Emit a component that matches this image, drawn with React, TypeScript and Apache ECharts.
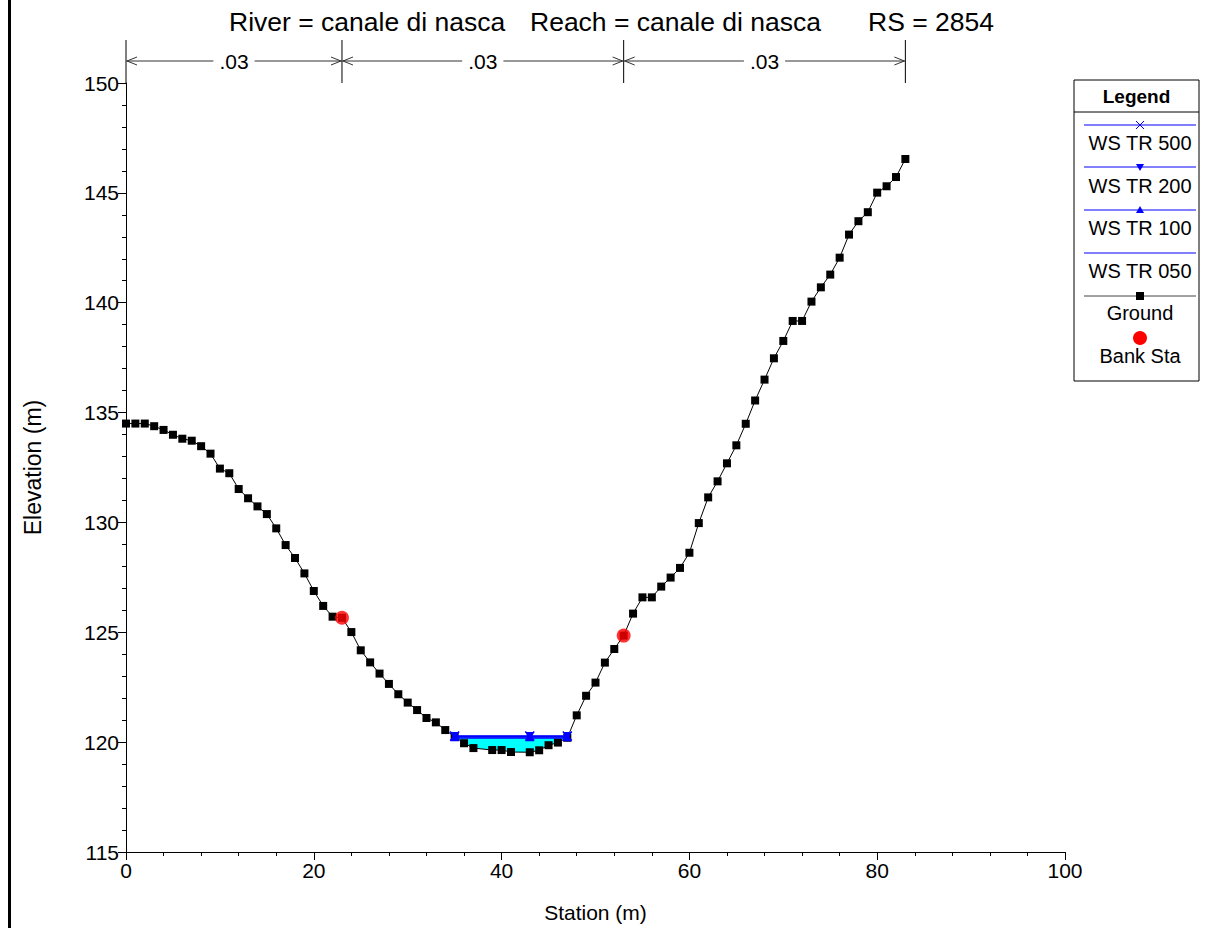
import React, { useEffect, useRef } from "react";
import * as echarts from "echarts";

// ---------- data ----------
const groundStations = [
  0, 1, 2, 3, 4, 5, 6, 7, 8, 9, 10, 11, 12, 13, 14, 15, 16, 17, 18, 19, 20, 21, 22, 23, 24, 25, 26, 27, 28, 29,
  30, 31, 32, 33, 34, 35, 36, 37, 39, 40, 41, 43, 44, 45, 46, 47, 48, 49, 50, 51, 52, 53, 54, 55, 56, 57, 58, 59,
  60, 61, 62, 63, 64, 65, 66, 67, 68, 69, 70, 71, 72, 73, 74, 75, 76, 77, 78, 79, 80, 81, 82, 83,
];
const groundElev = [
  134.5, 134.5, 134.5, 134.38, 134.21, 133.99, 133.81, 133.72, 133.47, 133.13, 132.45, 132.24, 131.52, 131.1,
  130.73, 130.38, 129.73, 128.97, 128.38, 127.68, 126.88, 126.2, 125.71, 125.66, 125.01, 124.18, 123.63, 123.12,
  122.65, 122.18, 121.8, 121.46, 121.1, 120.9, 120.55, 120.25, 119.95, 119.73, 119.64, 119.64, 119.55, 119.54,
  119.63, 119.86, 119.98, 120.2, 121.22, 122.11, 122.71, 123.62, 124.24, 124.85, 125.85, 126.59, 126.59, 127.08,
  127.49, 127.93, 128.62, 129.97, 131.14, 131.87, 132.69, 133.51, 134.49, 135.55, 136.5, 137.47, 138.26, 139.17,
  139.17, 140.05, 140.7, 141.28, 142.05, 143.1, 143.71, 144.12, 145.01, 145.3, 145.72, 146.54,
];
const bankStations = [23, 53];
const bankElev = [125.66, 124.85];

const wsStations = [35, 43, 47];
const wsTR500 = [120.28, 120.28, 120.28];
const wsTR200 = [120.26, 120.26, 120.26];
const wsTR100 = [120.24, 120.24, 120.24];
const wsTR050 = [120.19, 120.19, 120.19];

const nBreaks = [0, 23, 53, 83];
const nValues = [".03", ".03", ".03"];

const legendNames = ["WS TR 500", "WS TR 200", "WS TR 100", "WS TR 050", "Ground", "Bank Sta"];

const FONT = "'Liberation Sans', Arial, Helvetica, sans-serif";
const BLUE = "#0000ff";

const xSymbol = "path://M0,0L10,10M10,0L0,10";

function pairs(xs: number[], ys: number[]) {
  return xs.map((x, i) => [x, ys[i]]);
}

export default function App() {
  const ref = useRef<HTMLDivElement>(null);

  useEffect(() => {
    if (!ref.current) return;
    const chart = echarts.init(ref.current, null, { renderer: "svg" });

    const wsSeries = (name: string, ys: number[], symbol: string, rotate = 0, showSymbol = true) => ({
      name,
      type: "line",
      data: pairs(wsStations, ys),
      lineStyle: { color: BLUE, width: 1.5 },
      itemStyle: symbol === xSymbol ? { color: "none", borderColor: BLUE, borderWidth: 1.5 } : { color: BLUE },
      symbol: showSymbol ? symbol : "none",
      symbolRotate: rotate,
      symbolSize: 9,
      showSymbol,
      z: 5,
    });

    const option: any = {
      animation: false,
      backgroundColor: "#ffffff",
      grid: { left: 126, right: 148, top: 83, bottom: 76, containLabel: false, outerBoundsMode: "none" },
      xAxis: {
        type: "value",
        min: 0,
        max: 100,
        interval: 20,
        name: "Station (m)",
        nameLocation: "middle",
        nameGap: 50,
        nameTextStyle: { fontFamily: FONT, fontSize: 21, color: "#000" },
        axisLine: { show: true, onZero: false, lineStyle: { color: "#000", width: 1 } },
        axisTick: { show: true, length: 8, lineStyle: { color: "#000" } },
        minorTick: { show: true, splitNumber: 5, length: 4, lineStyle: { color: "#000" } },
        axisLabel: { fontFamily: FONT, fontSize: 21, color: "#000", margin: 8 },
        splitLine: { show: false },
      },
      yAxis: {
        type: "value",
        min: 115,
        max: 150,
        interval: 5,
        name: "Elevation (m)",
        nameLocation: "middle",
        nameGap: 82,
        nameRotate: 90,
        nameTextStyle: { fontFamily: FONT, fontSize: 23, color: "#000" },
        axisLine: { show: true, onZero: false, lineStyle: { color: "#000", width: 1 } },
        axisTick: { show: true, length: 8, lineStyle: { color: "#000" } },
        minorTick: { show: true, splitNumber: 5, length: 4, lineStyle: { color: "#000" } },
        axisLabel: { fontFamily: FONT, fontSize: 21, color: "#000", margin: 7 },
        splitLine: { show: false },
      },
      series: [
        {
          name: "WaterFill",
          type: "custom",
          data: [[wsStations[0], wsTR050[0]]],
          clip: false,
          z: 1,
          silent: true,
          renderItem: (_params: any, api: any) => {
            const x0 = wsStations[0];
            const x1 = wsStations[wsStations.length - 1];
            const top = wsTR050[0];
            const pts: number[][] = [];
            pts.push(api.coord([x0, top]));
            pts.push(api.coord([x1, top]));
            for (let i = groundStations.length - 1; i >= 0; i--) {
              const s = groundStations[i];
              if (s >= x0 && s <= x1) pts.push(api.coord([s, Math.min(groundElev[i], top)]));
            }
            return {
              type: "polygon",
              shape: { points: pts },
              style: { fill: "#00ffff", stroke: "none" },
            };
          },
        },
        {
          name: "Ground",
          type: "line",
          data: pairs(groundStations, groundElev),
          lineStyle: { color: "#000", width: 1 },
          itemStyle: { color: "#000" },
          symbol: "rect",
          symbolSize: 8,
          z: 4,
        },
        wsSeries("WS TR 050", wsTR050, "none", 0, false),
        wsSeries("WS TR 100", wsTR100, "triangle"),
        wsSeries("WS TR 200", wsTR200, "triangle", 180),
        wsSeries("WS TR 500", wsTR500, xSymbol),
        {
          name: "Bank Sta",
          type: "scatter",
          data: pairs(bankStations, bankElev),
          itemStyle: { color: "#ff0000" },
          symbol: "circle",
          symbolSize: 14,
          z: 6,
        },
      ],
    };

    chart.setOption(option);

    const px = (x: number, y: number) => chart.convertToPixel({ gridIndex: 0 }, [x, y]) as number[];

    const graphics: any[] = [];
    // left border
    graphics.push({ type: "rect", shape: { x: 8, y: 0, width: 3, height: 928 }, style: { fill: "#000" } });

    // title
    const titleParts = [
      { t: "River = canale di nasca", x: 229 },
      { t: "Reach = canale di nasca", x: 530 },
      { t: "RS = 2854", x: 868 },
    ];
    titleParts.forEach((p) =>
      graphics.push({
        type: "text",
        x: p.x,
        y: 22,
        style: { text: p.t, fontFamily: FONT, fontSize: 26.5, fill: "#000", verticalAlign: "middle" },
      })
    );

    // Manning's n annotation
    const yTop = 40;
    const yBottom = px(0, 150)[1];
    const yArrow = 61;
    nBreaks.forEach((b) => {
      const x = px(b, 150)[0];
      graphics.push({ type: "line", shape: { x1: x, y1: yTop, x2: x, y2: yBottom }, style: { stroke: "#000", lineWidth: 1 } });
    });
    for (let i = 0; i < nValues.length; i++) {
      const xa = px(nBreaks[i], 150)[0];
      const xb = px(nBreaks[i + 1], 150)[0];
      graphics.push({ type: "line", shape: { x1: xa, y1: yArrow, x2: xb, y2: yArrow }, style: { stroke: "#333", lineWidth: 1 } });
      graphics.push({
        type: "polyline",
        shape: { points: [[xa + 11, yArrow - 4], [xa + 1, yArrow], [xa + 11, yArrow + 4]] },
        style: { stroke: "#333", lineWidth: 1, fill: "none" },
      });
      graphics.push({
        type: "polyline",
        shape: { points: [[xb - 11, yArrow - 4], [xb - 1, yArrow], [xb - 11, yArrow + 4]] },
        style: { stroke: "#333", lineWidth: 1, fill: "none" },
      });
      graphics.push({
        type: "text",
        x: (xa + xb) / 2,
        y: yArrow,
        z: 10,
        style: {
          text: nValues[i],
          fontFamily: FONT,
          fontSize: 21,
          fill: "#000",
          align: "center",
          verticalAlign: "middle",
          backgroundColor: "#fff",
          padding: [0, 6],
        },
      });
    }

    // legend box
    const lx = 1074;
    const ly = 80;
    const lw = 125;
    const lh = 301;
    const cx = 1140;
    graphics.push({ type: "rect", shape: { x: lx, y: ly, width: lw, height: lh }, style: { fill: "#fff", stroke: "#000", lineWidth: 1 } });
    graphics.push({ type: "line", shape: { x1: lx, y1: 112, x2: lx + lw, y2: 112 }, style: { stroke: "#000", lineWidth: 1 } });
    graphics.push({
      type: "text",
      x: lx + lw / 2,
      y: 96,
      style: { text: "Legend", fontFamily: FONT, fontSize: 19, fontWeight: "bold", fill: "#000", align: "center", verticalAlign: "middle" },
    });
    const lineYs = [125, 167, 210, 253, 296];
    const textYs = [143, 186, 228, 271, 313, 356];
    for (let i = 0; i < 5; i++) {
      const col = i < 4 ? BLUE : "#444";
      graphics.push({ type: "line", shape: { x1: 1084, y1: lineYs[i], x2: 1196, y2: lineYs[i] }, style: { stroke: col, lineWidth: 1 } });
    }
    // markers
    graphics.push({
      type: "polyline",
      shape: { points: [[cx - 4, lineYs[0] - 4], [cx + 4, lineYs[0] + 4]] },
      style: { stroke: BLUE, lineWidth: 1 },
    });
    graphics.push({
      type: "polyline",
      shape: { points: [[cx + 4, lineYs[0] - 4], [cx - 4, lineYs[0] + 4]] },
      style: { stroke: BLUE, lineWidth: 1 },
    });
    graphics.push({
      type: "polygon",
      shape: { points: [[cx - 4, lineYs[1] - 3], [cx + 4, lineYs[1] - 3], [cx, lineYs[1] + 4]] },
      style: { fill: BLUE },
    });
    graphics.push({
      type: "polygon",
      shape: { points: [[cx - 4, lineYs[2] + 3], [cx + 4, lineYs[2] + 3], [cx, lineYs[2] - 4]] },
      style: { fill: BLUE },
    });
    graphics.push({ type: "rect", shape: { x: cx - 4, y: lineYs[4] - 4, width: 8, height: 8 }, style: { fill: "#000" } });
    graphics.push({ type: "circle", shape: { cx: cx, cy: 338, r: 7 }, style: { fill: "#ff0000" } });
    legendNames.forEach((n, i) =>
      graphics.push({
        type: "text",
        x: cx,
        y: textYs[i],
        style: { text: n, fontFamily: FONT, fontSize: 20, fill: "#000", align: "center", verticalAlign: "middle" },
      })
    );

    chart.setOption({ graphic: graphics });

    return () => chart.dispose();
  }, []);

  return (
    <div
      ref={ref}
      style={{ position: "fixed", left: 0, top: 0, width: 1213, height: 928, background: "#fff" }}
    />
  );
}
